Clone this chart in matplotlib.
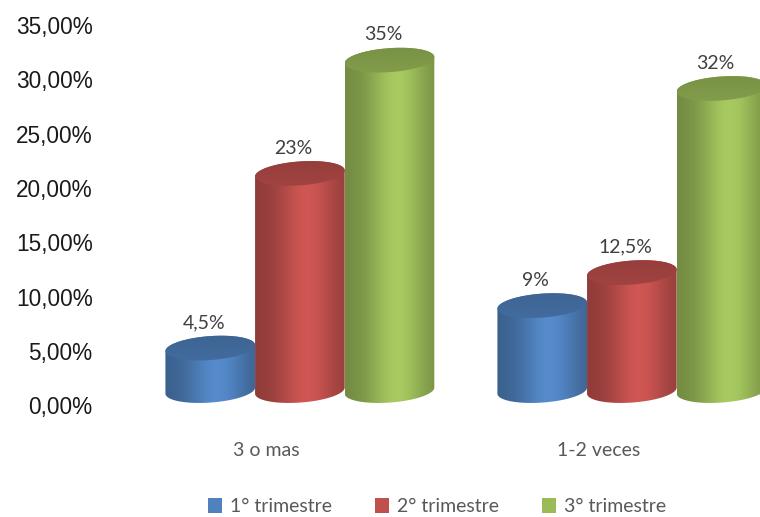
import numpy as np
import matplotlib.pyplot as plt
from matplotlib.patches import Polygon, Patch
from matplotlib.colors import to_rgb

categories = ['3 o mas', '1-2 veces']
series_names = ['1° trimestre', '2° trimestre', '3° trimestre']
trim1 = [4.5, 9.0]
trim2 = [23.0, 12.5]
trim3 = [35.0, 32.0]
series_values = [trim1, trim2, trim3]
colors = ['#4F81BD', '#C0504D', '#9BBB59']
tick_values = [0, 5, 10, 15, 20, 25, 30, 35]

# the % labels sit on the back wall, which is slightly bigger than the bars
wall_scale = 1.15
wall_offset = -1.54

bar_w = 0.27          # cylinder diameter (category units)
ell_h = 1.27          # half height of the end ellipses (value units)
tilt = 2.4            # ellipse tilt, value units per category unit

plt.rcParams['font.family'] = ['Lato', 'DejaVu Sans']

fig = plt.figure(figsize=(7.6, 5.17), dpi=100)
ax = fig.add_axes([105 / 760, 0.208, 655 / 760, 0.767])
ax.set_xlim(-0.587, 1.386)
ax.set_ylim(-2, 40)
for s in ax.spines.values():
    s.set_visible(False)
ax.set_xticks([])
ax.set_yticks([wall_offset + wall_scale * v for v in tick_values])
ax.set_yticklabels([f'{v:.2f}'.replace('.', ',') + '%' for v in tick_values],
                   family='Liberation Sans', fontsize=16.3, color='#1a1a1a')
ax.tick_params(axis='y', length=0, pad=9)


def ellipse(cx, cy, r, t):
    x = cx + r * np.cos(t)
    y = cy + ell_h * np.sin(t) + tilt * r * np.cos(t)
    return np.column_stack([x, y])


def shade_row(base, n=200):
    u = np.linspace(0, 1, n)
    f = 0.74 + 0.34 * np.exp(-((u - 0.58) / 0.32) ** 2)
    rgb = np.clip(np.outer(f, to_rgb(base)), 0, 1)
    return rgb[None, :, :]


def cylinder(cx, value, base):
    r = bar_w / 2
    front = ellipse(cx, 0, r, np.linspace(np.pi, 2 * np.pi, 80))
    back = ellipse(cx, value, r, np.linspace(0, np.pi, 80))
    body = Polygon(np.vstack([front, back]), closed=True,
                   facecolor='none', edgecolor='none')
    ax.add_patch(body)
    img = ax.imshow(shade_row(base), extent=[cx - r, cx + r, -ell_h - 1, value + ell_h + 1],
                    aspect='auto', origin='lower', interpolation='bilinear', zorder=2)
    img.set_clip_path(body)

    top_pts = ellipse(cx, value, r, np.linspace(0, 2 * np.pi, 120))
    top = Polygon(top_pts, closed=True, facecolor='none', edgecolor='none')
    ax.add_patch(top)
    v = np.linspace(0, 1, 50)[:, None]
    top_rgb = np.clip((0.86 - 0.1 * v)[:, :, None] * np.array(to_rgb(base))[None, None, :], 0, 1)
    top_rgb = np.repeat(top_rgb, 2, axis=1)
    timg = ax.imshow(top_rgb, extent=[cx - r, cx + r, value - ell_h - 1, value + ell_h + 1],
                     aspect='auto', origin='lower', interpolation='bilinear', zorder=2.1)
    timg.set_clip_path(top)


for gi, cat in enumerate(categories):
    for si, vals in enumerate(series_values):
        cx = gi + (si - 1) * bar_w
        cylinder(cx, vals[gi], colors[si])
        label = f'{vals[gi]:g}'.replace('.', ',') + '%'
        ax.text(cx - 0.02, vals[gi] + ell_h + 0.5, label, ha='center', va='bottom',
                fontsize=14, color='#404040', zorder=5)
    ax.text(gi - 0.1, -6.3, cat, ha='center', va='center', fontsize=14, color='#595959')

handles = [Patch(facecolor=c, edgecolor='none') for c in colors]
fig.legend(handles, series_names, loc='center', bbox_to_anchor=(0.575, 0.02),
           ncol=3, frameon=False, fontsize=14, labelcolor='#595959',
           handlelength=0.75, handleheight=0.75, handletextpad=0.4, columnspacing=2.2)

fig.savefig('out.png', dpi=100)
